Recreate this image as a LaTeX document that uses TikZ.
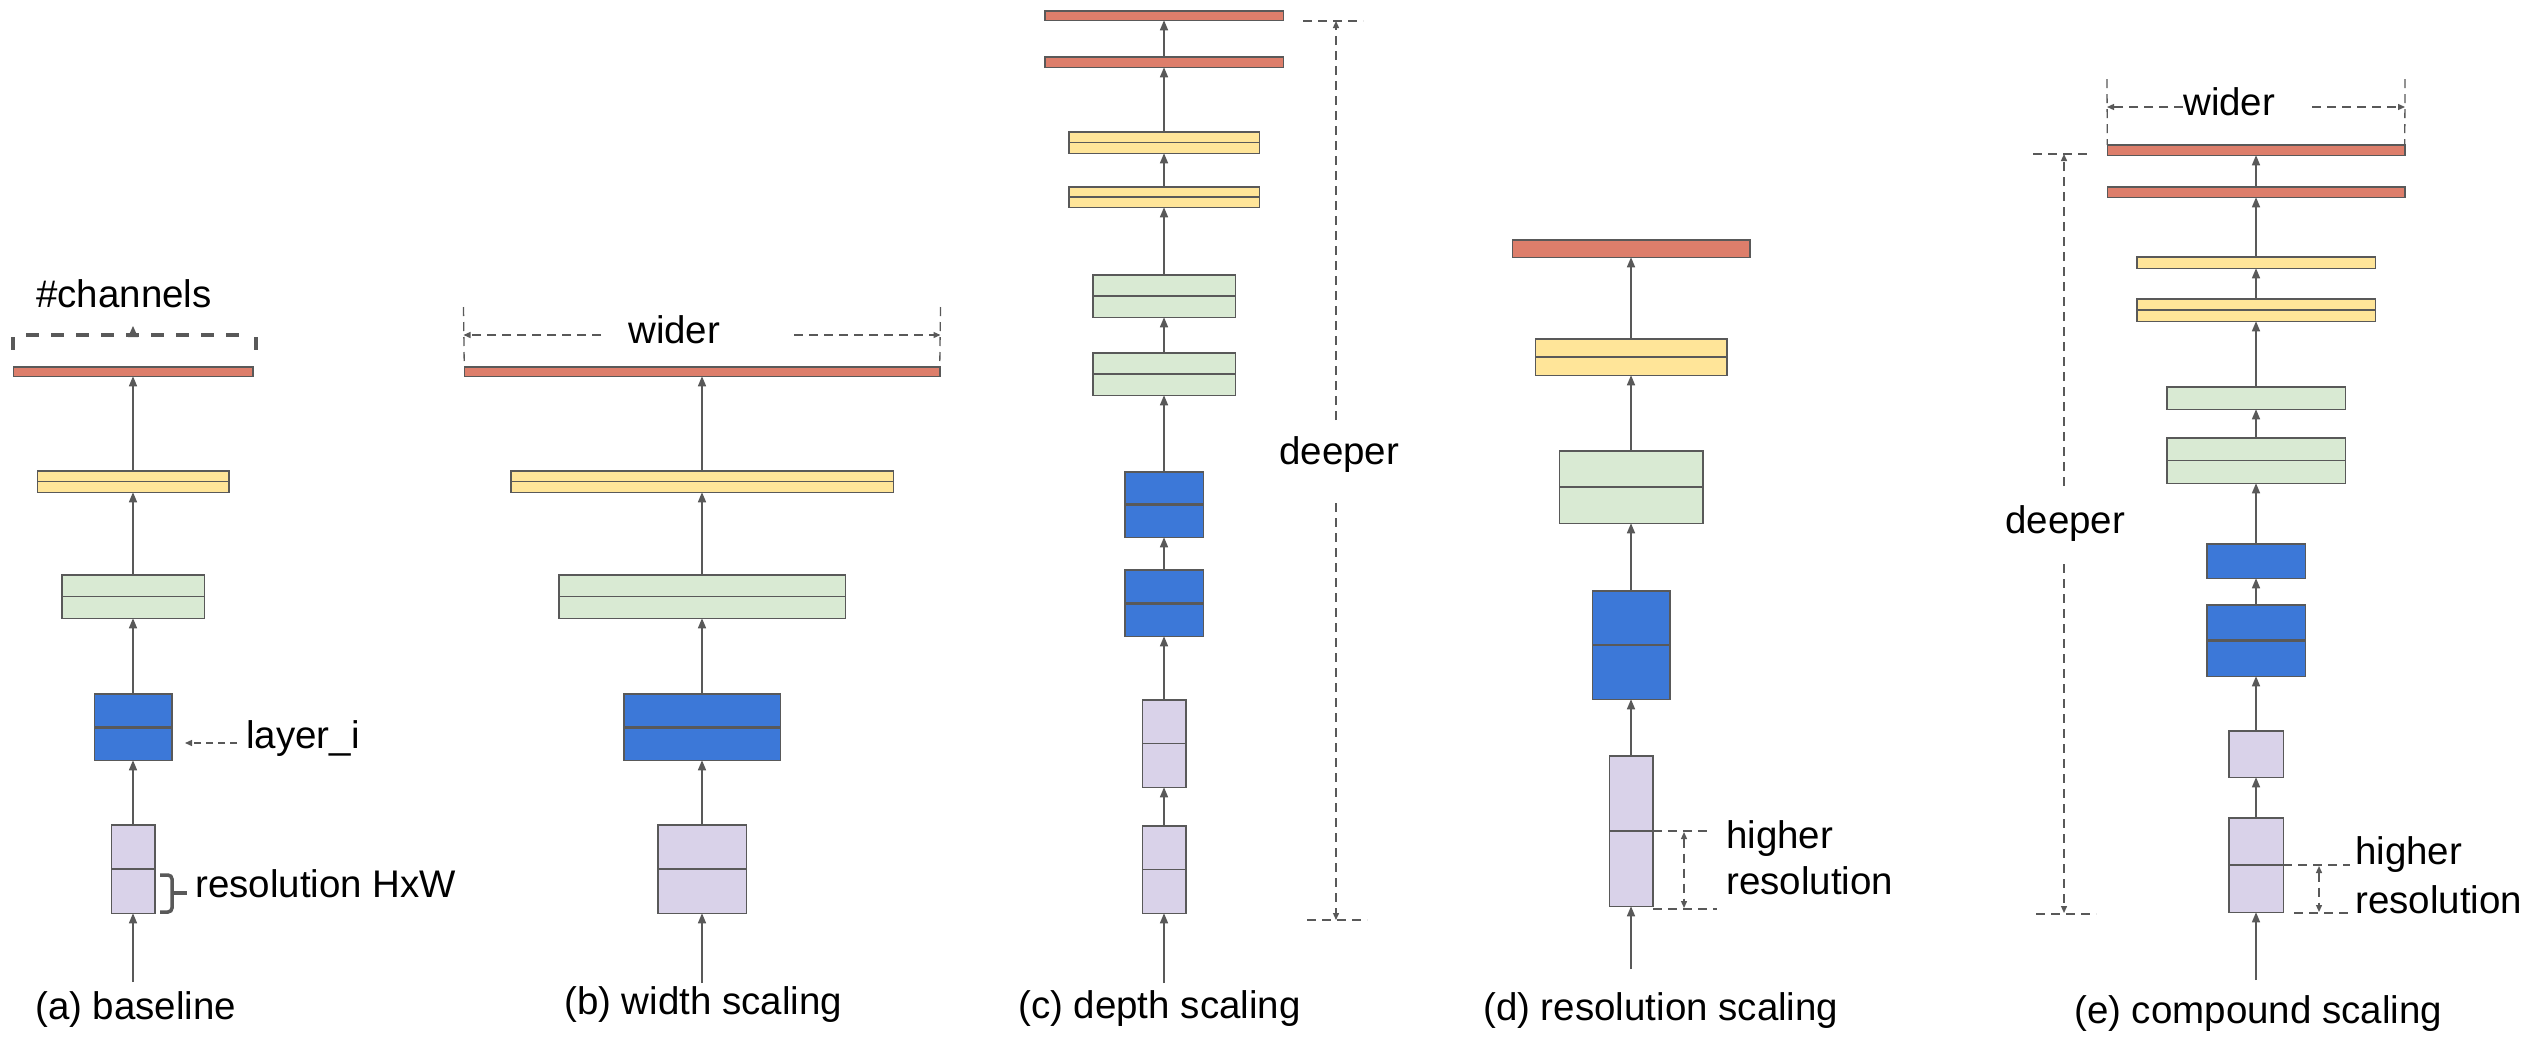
\documentclass[tikz,border=0pt]{standalone}
\usepackage{fontspec}
\setmainfont{Liberation Sans}
\usetikzlibrary{arrows.meta}
\definecolor{lc}{HTML}{595959}
\definecolor{cred}{HTML}{DD7E6B}
\definecolor{cyel}{HTML}{FFE599}
\definecolor{cgrn}{HTML}{D9EAD3}
\definecolor{cblu}{HTML}{3C78D8}
\definecolor{clav}{HTML}{D9D2E9}
\begin{document}
\begin{tikzpicture}[x=1pt,y=-1pt,
  blk/.style={draw=lc, line width=1.5pt, rectangle, inner sep=0pt, outer sep=0pt},
  redb/.style={blk, fill=cred},
  yelb/.style={blk, fill=cyel},
  grnb/.style={blk, fill=cgrn},
  blub/.style={blk, fill=cblu},
  lavb/.style={blk, fill=clav},
  midline/.style={draw=lc, line width=1.5pt},
  thickmid/.style={draw=lc, line width=3pt},
  conn/.style={draw=lc, line width=1.4pt, -{Triangle[width=8pt,length=10pt]}},
  dimline/.style={draw=lc, line width=1.3pt, dash pattern=on 9pt off 6pt},
  dimarrow/.style={dimline, -{Triangle[width=6pt,length=7pt]}},
  dimboth/.style={dimline, {Triangle[width=6pt,length=7pt]}-{Triangle[width=6pt,length=7pt]}},
  txt/.style={font=\fontsize{38.5pt}{46pt}\selectfont, inner sep=0pt, anchor=base west, text=black}
]
\useasboundingbox[fill=white] (0,0) rectangle (2530,1039);

% ---------------- (a) baseline ----------------
\node[lavb, minimum width=43.5pt, minimum height=88.5pt] (a1) at (133,869) {};
\node[blub, minimum width=77.5pt, minimum height=66.5pt] (a2) at (133,727) {};
\node[grnb, minimum width=142.5pt, minimum height=43.5pt] (a3) at (133,596.5) {};
\node[yelb, minimum width=191.5pt, minimum height=21.5pt] (a4) at (133,481.5) {};
\node[redb, minimum width=239.5pt, minimum height=9.5pt] (a5) at (133,371.5) {};
\draw[midline] (a1.west) -- (a1.east);
\draw[thickmid] (a2.west) -- (a2.east);
\draw[midline] (a3.west) -- (a3.east);
\draw[midline] (a4.west) -- (a4.east);
\coordinate (ain) at (133,982);
\draw[conn] (ain) -- (a1.south);
\foreach \i/\j in {1/2,2/3,3/4,4/5} {\draw[conn] (a\i.north) -- (a\j.south);}
% #channels bracket
\draw[lc, line width=3.5pt, dash pattern=on 13pt off 12pt] (26,335) -- (244,335);
\draw[lc, line width=3.5pt] (13,337) -- (13,350);
\draw[lc, line width=3.5pt] (256,337) -- (256,350);
\fill[lc] (128,337) -- (133,326) -- (138,337) -- cycle;
\node[txt] (chan) at (36,307) {\#channels};
% layer_i
\node[txt] (layer) at (246,748) {layer\_i};
\coordinate (layerarr) at (185,743);
\draw[dimarrow, dash pattern=on 7pt off 5pt] (237,743) -- (layerarr);
% resolution brace
\draw[lc, line width=3.5pt, rounded corners=4pt] (160,875) -- (172,875) -- (172,912) -- (160,912);
\draw[lc, line width=3.5pt] (172,893) -- (187,893);
\node[txt] (resa) at (195,897) {resolution HxW};
\node[txt] (laba) at (35,1019) {(a) baseline};

% ---------------- (b) width scaling ----------------
\node[lavb, minimum width=88.5pt, minimum height=88.5pt] (b1) at (702,869) {};
\node[blub, minimum width=156.5pt, minimum height=66.5pt] (b2) at (702,727) {};
\node[grnb, minimum width=286.5pt, minimum height=43.5pt] (b3) at (702,596.5) {};
\node[yelb, minimum width=382.5pt, minimum height=21.5pt] (b4) at (702,481.5) {};
\node[redb, minimum width=475.5pt, minimum height=9.5pt] (b5) at (702,371.5) {};
\draw[midline] (b1.west) -- (b1.east);
\draw[thickmid] (b2.west) -- (b2.east);
\draw[midline] (b3.west) -- (b3.east);
\draw[midline] (b4.west) -- (b4.east);
\coordinate (bin) at (702,983);
\draw[conn] (bin) -- (b1.south);
\foreach \i/\j in {1/2,2/3,3/4,4/5} {\draw[conn] (b\i.north) -- (b\j.south);}
% wider
\coordinate (bwl) at (463.5,307);
\coordinate (bwr) at (940.5,307);
\draw[dimline] (bwl) -- (b5.north west);
\draw[dimline] (bwr) -- (b5.north east);
\coordinate (bal) at (601,335);
\coordinate (bar) at (794,335);
\draw[dimarrow] (bal) -- (463.5,335);
\draw[dimarrow] (bar) -- (940.5,335);
\node[txt] (widerb) at (628,343) {wider};
\node[txt] (labb) at (564,1014) {(b) width scaling};

% ---------------- (c) depth scaling ----------------
\node[lavb, minimum width=43.5pt, minimum height=87.5pt] (c1) at (1164,869.5) {};
\node[lavb, minimum width=43.5pt, minimum height=87.5pt] (c2) at (1164,743.5) {};
\node[blub, minimum width=78.5pt, minimum height=66.5pt] (c3) at (1164,603) {};
\node[blub, minimum width=78.5pt, minimum height=65.5pt] (c4) at (1164,504.5) {};
\node[grnb, minimum width=142.5pt, minimum height=42.5pt] (c5) at (1164,374) {};
\node[grnb, minimum width=142.5pt, minimum height=42.5pt] (c6) at (1164,296) {};
\node[yelb, minimum width=190.5pt, minimum height=20.5pt] (c7) at (1164,197) {};
\node[yelb, minimum width=190.5pt, minimum height=21.5pt] (c8) at (1164,142.5) {};
\node[redb, minimum width=238.5pt, minimum height=10.5pt] (c9) at (1164,62) {};
\node[redb, minimum width=238.5pt, minimum height=9.5pt] (c10) at (1164,15.5) {};
\foreach \n in {c1,c2,c5,c6,c7,c8} {\draw[midline] (\n.west) -- (\n.east);}
\foreach \n in {c3,c4} {\draw[thickmid] (\n.west) -- (\n.east);}
\coordinate (cin) at (1164,983);
\draw[conn] (cin) -- (c1.south);
\foreach \i/\j in {1/2,2/3,3/4,4/5,5/6,6/7,7/8,8/9,9/10} {\draw[conn] (c\i.north) -- (c\j.south);}
% deeper
\coordinate (cdt) at (1336,21);
\coordinate (cdb) at (1336,920);
\coordinate (cdu) at (1336,420);
\coordinate (cdl) at (1336,503);
\draw[dimline] (1303,21) -- (1363,21);
\draw[dimline] (1307,920) -- (1367,920);
\draw[dimarrow] (cdu) -- (cdt);
\draw[dimarrow] (cdl) -- (cdb);
\node[txt] (deepc) at (1279,464) {deeper};
\node[txt] (labc) at (1018,1018) {(c) depth scaling};

% ---------------- (d) resolution scaling ----------------
\node[lavb, minimum width=43.5pt, minimum height=150.5pt] (d1) at (1631,831) {};
\node[blub, minimum width=77.5pt, minimum height=108.5pt] (d2) at (1631,645) {};
\node[grnb, minimum width=143.5pt, minimum height=72.5pt] (d3) at (1631,487) {};
\node[yelb, minimum width=191.5pt, minimum height=36.5pt] (d4) at (1631,357) {};
\node[redb, minimum width=237.5pt, minimum height=17.5pt] (d5) at (1631,248.5) {};
\foreach \n in {d1,d2,d3,d4} {\draw[midline] (\n.west) -- (\n.east);}
\coordinate (din) at (1631,969);
\draw[conn] (din) -- (d1.south);
\foreach \i/\j in {1/2,2/3,3/4,4/5} {\draw[conn] (d\i.north) -- (d\j.south);}
% higher resolution
\coordinate (dh1) at (1712,831);
\coordinate (dh2) at (1717,909);
\draw[dimline] (d1.east) -- (dh1);
\draw[dimline] (1653,909) -- (dh2);
\draw[dimboth] (1684,832) -- (1684,908);
\node[txt] (hid) at (1726,848) {higher};
\node[txt] (rsd) at (1726,894) {resolution};
\node[txt] (labd) at (1483,1020) {(d) resolution scaling};

% ---------------- (e) compound scaling ----------------
\node[lavb, minimum width=54.5pt, minimum height=94.5pt] (e1) at (2256,865) {};
\node[lavb, minimum width=54.5pt, minimum height=46.5pt] (e2) at (2256,754) {};
\node[blub, minimum width=98.5pt, minimum height=71.5pt] (e3) at (2256,640.5) {};
\node[blub, minimum width=98.5pt, minimum height=34.5pt] (e4) at (2256,561) {};
\node[grnb, minimum width=178.5pt, minimum height=45.5pt] (e5) at (2256,460.5) {};
\node[grnb, minimum width=178.5pt, minimum height=22.5pt] (e6) at (2256,398) {};
\node[yelb, minimum width=238.5pt, minimum height=22.5pt] (e7) at (2256,310) {};
\node[yelb, minimum width=238.5pt, minimum height=11.5pt] (e8) at (2256,262.5) {};
\node[redb, minimum width=297.5pt, minimum height=10.5pt] (e9) at (2256,192) {};
\node[redb, minimum width=297.5pt, minimum height=10.5pt] (e10) at (2256,150) {};
\foreach \n in {e1,e5,e7} {\draw[midline] (\n.west) -- (\n.east);}
\draw[thickmid] (e3.west) -- (e3.east);
\coordinate (ein) at (2256,980);
\draw[conn] (ein) -- (e1.south);
\foreach \i/\j in {1/2,2/3,3/4,4/5,5/6,6/7,7/8,8/9,9/10} {\draw[conn] (e\i.north) -- (e\j.south);}
% wider
\coordinate (ewl) at (2107,79);
\coordinate (ewr) at (2405,79);
\draw[dimline] (ewl) -- (e10.north west);
\draw[dimline] (ewr) -- (e10.north east);
\coordinate (eal) at (2183,107);
\coordinate (ear) at (2312,107);
\draw[dimarrow] (eal) -- (2107,107);
\draw[dimarrow] (ear) -- (2405,107);
\node[txt] (widere) at (2183,115) {wider};
% deeper
\coordinate (edt) at (2064,154);
\coordinate (edb) at (2064,913);
\coordinate (edu) at (2064,486);
\coordinate (edl) at (2064,564);
\draw[dimline] (2033,154) -- (2092,154);
\draw[dimline] (2036,914) -- (2096,914);
\draw[dimarrow] (edu) -- (edt);
\draw[dimarrow] (edl) -- (edb);
\node[txt] (deepe) at (2005,533) {deeper};
% higher resolution
\coordinate (eh1) at (2350,865);
\coordinate (eh2) at (2353,913);
\draw[dimline] (e1.east) -- (eh1);
\draw[dimline] (2294,913) -- (eh2);
\draw[dimboth] (2319,866) -- (2319,912);
\node[txt] (hie) at (2355,864) {higher};
\node[txt] (rse) at (2355,913) {resolution};
\node[txt] (labe) at (2074,1023) {(e) compound scaling};
\end{tikzpicture}
\end{document}
